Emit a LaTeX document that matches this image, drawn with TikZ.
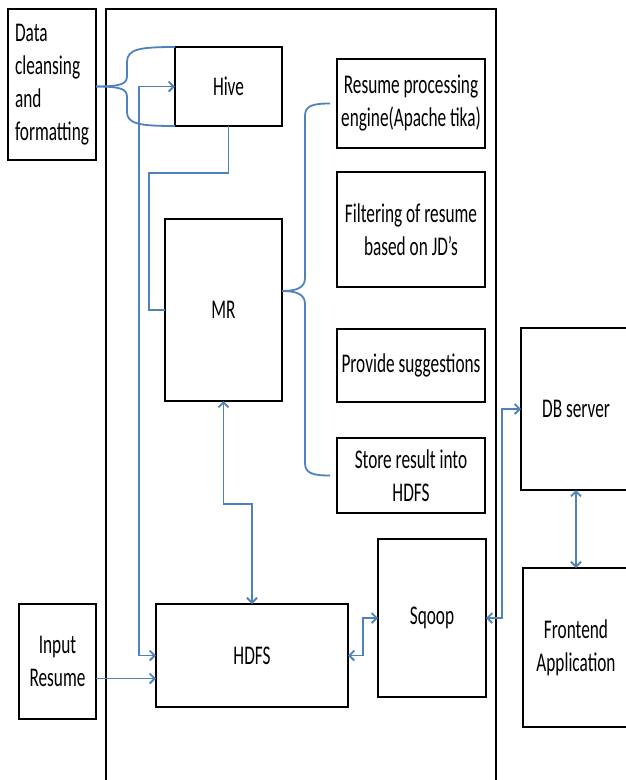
\documentclass[tikz,border=0pt]{standalone}
\usepackage{fontspec}
\setmainfont[FakeStretch=0.64]{Carlito}
\usetikzlibrary{arrows.meta}
\definecolor{linkblue}{RGB}{79,129,189}

\begin{document}
\begin{tikzpicture}[x=1pt,y=-1pt,
box/.style={draw,rectangle,line width=1.8pt,inner sep=0pt,outer sep=0pt,
    align=center,anchor=north west,font=\fontsize{27}{33}\selectfont},
link/.style={draw=linkblue,line width=1.8pt},
>={Straight Barb[length=5pt,width=10pt]}]
\useasboundingbox (0,0) rectangle (626,780);
\draw[line width=1.8pt] (106,790) |- (496,9) -- (496,790);

\node (clean) [box,align=left,
    minimum width=88pt,minimum height=151pt] at (8,9)
    {Data\\cleansing\\and\\formatting};
\node (hive) [box,minimum width=107pt,minimum height=79pt] at (175,47) {Hive};
\node (mr) [box,minimum width=117pt,minimum height=182pt] at (165,219) {MR};
\node (tika) [box,minimum width=148pt,minimum height=89pt] at (337,59)
    {Resume processing\\engine(Apache tika)};
\node (filter) [box,minimum width=148pt,minimum height=115pt] at (337,172)
    {Filtering of resume\\based on JD's};
\node (suggest) [box,minimum width=148pt,minimum height=73pt] at (337,329)
    {Provide suggestions};
\node (store) [box,minimum width=148pt,minimum height=75pt] at (337,438)
    {Store result into\\HDFS};
\node (sqoop) [box,minimum width=108pt,minimum height=158pt] at (378,539) {Sqoop};
\node (hdfs) [box,minimum width=192pt,minimum height=103pt] at (156,604) {HDFS};
\node (input) [box,minimum width=77pt,minimum height=115pt] at (19,604)
    {Input\\Resume};
\node (db) [box,minimum width=110pt,minimum height=162pt] at (521,328) {DB server};
\node (front) [box,minimum width=106pt,minimum height=159pt] at (523,568)
    {Frontend\\Application};

\coordinate (ctip) at (clean.east |- hive.west);
\draw[link] (hive.north west) .. controls (140,47) and (127,49) .. (127,62)
    -- (127,76) .. controls (127,84) and (121,86.5) .. (ctip);
\draw[link] (ctip) .. controls (121,86.5) and (127,89) .. (127,97)
    -- (127,112) .. controls (127,124) and (140,126) .. (hive.south west);

\coordinate (mtip) at ([yshift=19pt]mr.east);
\draw[link] (mtip) .. controls (296,291) and (305,288) .. (305,278)
    -- (305,116) .. controls (305,106) and (312,103.5) .. ([xshift=-7pt]tika.west);
\draw[link] (mtip) .. controls (296,291) and (305,294) .. (305,304)
    -- (305,463) .. controls (305,473) and (312,475.5) .. ([xshift=-7pt]store.west);

\draw[link] (hive.south) |- (149,173) |- (mr.west);
\draw[link,<->] (hive.west) -- ++(-36,0) |- (hdfs.west);
\coordinate (inarr) at ([yshift=-17pt]input.east);
\draw[link,->] (inarr) -- (inarr -| hdfs.west);
\draw[link,<->] (mr.south) -- ++(0,103) -| (hdfs.north);
\draw[link,<->] (hdfs.east) -- ++(15,0) |- (sqoop.west);
\draw[link,<->] (sqoop.east) -- ++(16,0) |- (db.west);
\draw[link,<->] (db.south) -- (front.north);
\end{tikzpicture}
\end{document}
